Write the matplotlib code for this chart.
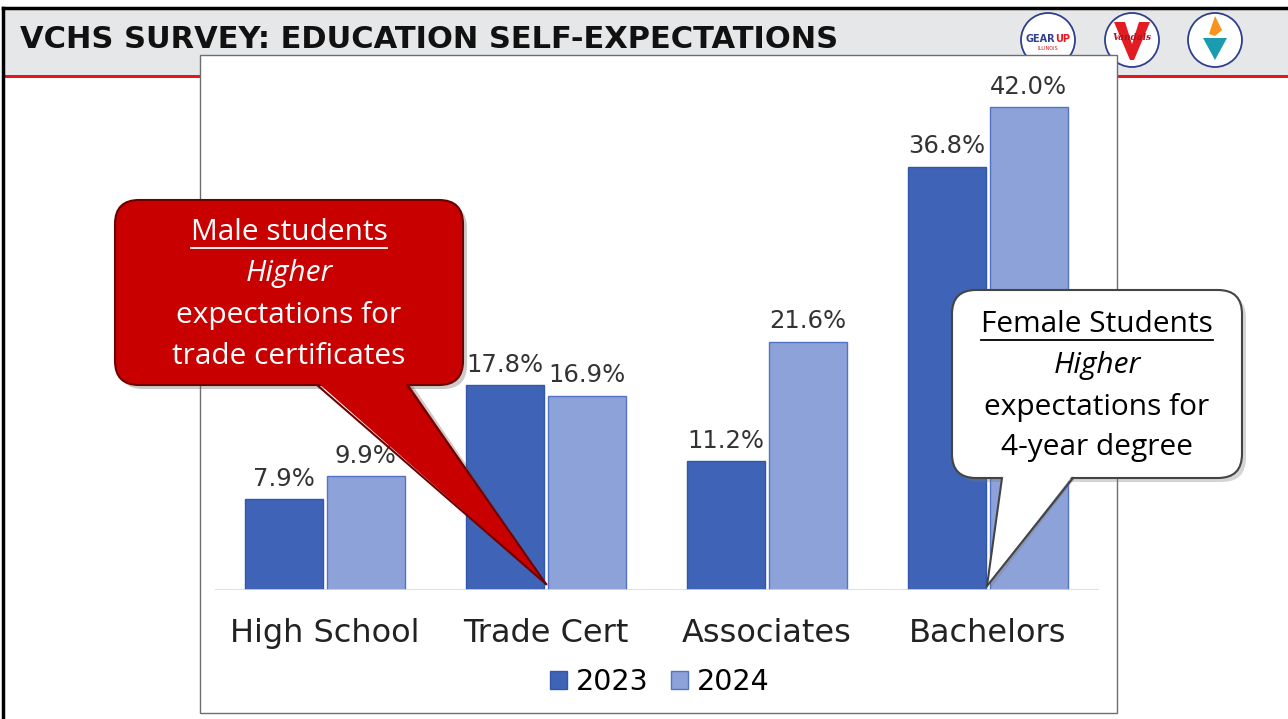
import numpy as np
import matplotlib.pyplot as plt
from matplotlib.patches import Rectangle, FancyBboxPatch, Polygon, Circle
from matplotlib.lines import Line2D

# data
categories = ['High School', 'Trade Cert', 'Associates', 'Bachelors']
years = ['2023', '2024']
vals_2023 = [7.9, 17.8, 11.2, 36.8]
vals_2024 = [9.9, 16.9, 21.6, 42.0]

title = 'VCHS SURVEY: EDUCATION SELF-EXPECTATIONS'
male_lines = ['Male students', 'Higher', 'expectations for', 'trade certificates']
female_lines = ['Female Students', 'Higher', 'expectations for', '4-year degree']

W, H = 1288, 719
fig = plt.figure(figsize=(W / 100, H / 100), dpi=100)

# background layer in pixel coordinates (y down)
bg = fig.add_axes([0, 0, 1, 1], zorder=0)
bg.set_xlim(0, W)
bg.set_ylim(H, 0)
bg.axis('off')

bg.add_patch(Rectangle((3, 8), W, 68, facecolor='#e6e7e8', edgecolor='none'))
bg.add_patch(Rectangle((3, 75), W, 3, facecolor='#e8161c', edgecolor='none'))
bg.plot([3, W], [8, 8], color='black', lw=2.5)
bg.plot([3, 3], [8, H], color='black', lw=2.5)
bg.text(20, 39, title, fontsize=22, fontweight='bold', family='DejaVu Sans',
        va='center', ha='left', color='#111111')

# logos
cx = [1048, 1132, 1215]
for x in cx:
    bg.add_patch(Circle((x, 40), 27, facecolor='white', edgecolor='#2f3f8f', lw=1.3))
bg.text(1040, 39, 'GEAR', fontsize=7, fontweight='bold', color='#2f3f8f', ha='center', va='center')
bg.text(1063, 39, 'UP', fontsize=7, fontweight='bold', color='#e8161c', ha='center', va='center')
bg.text(1048, 49, 'ILLINOIS', fontsize=3.5, color='#e8161c', ha='center', va='center')
bg.add_patch(Polygon([[1114, 22], [1125, 22], [1132, 44], [1139, 22], [1150, 22], [1134, 60], [1130, 60]],
                     facecolor='#e31b23', edgecolor='none'))
bg.text(1132, 38, 'Vandals', fontsize=6.5, style='italic', fontweight='bold', color='#b0121a',
        ha='center', va='center', family='DejaVu Serif')
bg.add_patch(Polygon([[1203, 38], [1227, 38], [1215, 60]], facecolor='#1a9bb0', edgecolor='none'))
bg.add_patch(Polygon([[1209, 34], [1215, 16], [1222, 30], [1215, 36]], facecolor='#f7941d', edgecolor='none'))

# chart box
bg.add_patch(Rectangle((200, 55), 917, 658, facecolor='white', edgecolor='#6e6e6e', lw=1))

# bar chart
ax = fig.add_axes([214.5 / W, (H - 590) / H, 884 / W, 517.5 / H], zorder=1)
ax.patch.set_alpha(0)
x = np.arange(len(categories))
bw = 0.355
b1 = ax.bar(x - 0.185, vals_2023, bw, color='#3f63b6', edgecolor='#3256aa', lw=1, label=years[0])
b2 = ax.bar(x + 0.185, vals_2024, bw, color='#8da2d8', edgecolor='#5373c6', lw=1, label=years[1])
ax.set_xlim(-0.5, 3.5)
ax.set_ylim(0, 45)
for bars, vals in [(b1, vals_2023), (b2, vals_2024)]:
    for b, v in zip(bars, vals):
        ax.annotate(f'{v:.1f}%', (b.get_x() + b.get_width() / 2, v), xytext=(0, 6),
                    textcoords='offset points', ha='center', va='bottom',
                    fontsize=17.5, color='#333333', family='DejaVu Sans')
ax.axhline(0, color='#d9d9d9', lw=1.2)
ax.set_xticks(x, categories, fontsize=23, family='DejaVu Sans', color='#222222')
ax.tick_params(axis='x', length=0, pad=20)
ax.set_yticks([])
for s in ax.spines.values():
    s.set_visible(False)

fig.legend(handles=[b1, b2], labels=years, loc='center', bbox_to_anchor=(660 / W, 1 - 682 / H),
           ncol=2, frameon=False, handlelength=0.6, handleheight=0.6,
           handletextpad=0.3, columnspacing=0.8, prop={'family': 'DejaVu Sans', 'size': 20.5})

# callouts layer
ov = fig.add_axes([0, 0, 1, 1], zorder=2)
ov.set_xlim(0, W)
ov.set_ylim(H, 0)
ov.axis('off')
ov.patch.set_alpha(0)


def callout(x0, y0, x1, y1, base, tip, face, edge, shadow):
    bx0, bx1 = base
    # shadow
    ov.add_patch(FancyBboxPatch((x0 + 4, y0 + 4), x1 - x0, y1 - y0, boxstyle='round,pad=0,rounding_size=24',
                                facecolor=shadow, edgecolor='none', alpha=0.3))
    ov.add_patch(Polygon([[bx0 + 4, y1 - 2], [bx1 + 4, y1 - 2], [tip[0] + 3, tip[1] + 3]],
                         facecolor=shadow, edgecolor='none', alpha=0.3))
    ov.add_patch(FancyBboxPatch((x0, y0), x1 - x0, y1 - y0, boxstyle='round,pad=0,rounding_size=24',
                                facecolor=face, edgecolor=edge, lw=1.5))
    ov.add_patch(Polygon([[bx0, y1 - 3], [bx1, y1 - 3], tip], facecolor=face, edgecolor='none'))
    ov.add_line(Line2D([bx0, tip[0]], [y1, tip[1]], color=edge, lw=1.5))
    ov.add_line(Line2D([bx1, tip[0]], [y1, tip[1]], color=edge, lw=1.5))


callout(115, 200, 463, 385, (317, 407), (546, 584), '#c80000', '#6e0000', '#555555')
callout(952, 290, 1242, 478, (1002, 1073), (987, 586), 'white', '#444444', '#777777')


def lines_text(cx, ys, lines, color):
    texts = []
    for i, (yy, s) in enumerate(zip(ys, lines)):
        t = ov.text(cx, yy, s, ha='center', va='center', fontsize=21.5, color=color,
                    family='Open Sans', style='italic' if i == 1 else 'normal')
        texts.append(t)
    return texts


male_t = lines_text(289, [232, 273, 315, 356], male_lines, 'white')
fem_t = lines_text(1097, [324, 366, 407, 448], female_lines, 'black')

# underline the first line of each callout
fig.canvas.draw()
r = fig.canvas.get_renderer()
for t, col, yy in [(male_t[0], 'white', 248), (fem_t[0], 'black', 340)]:
    bb = t.get_window_extent(r)
    ov.plot([bb.x0, bb.x1], [yy, yy], color=col, lw=1.3)

fig.savefig('out.png', dpi=100)
